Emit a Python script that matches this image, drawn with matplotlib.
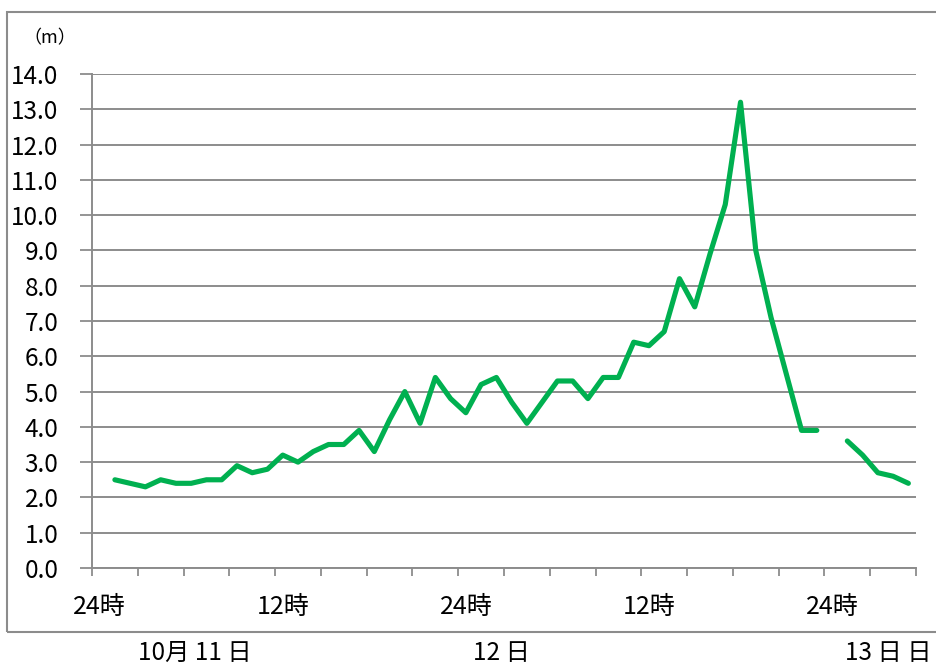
import numpy as np
import matplotlib
matplotlib.use("Agg")
import matplotlib.pyplot as plt
from matplotlib.patches import Rectangle

plt.rcParams['font.family'] = ['Noto Sans CJK JP', 'DejaVu Sans']

# Hourly categories from 10/11 0時 (54 hours), wave height in metres
hours = list(range(54))
wave_height = [np.nan,
               2.5, 2.4, 2.3, 2.5, 2.4, 2.4, 2.5, 2.5, 2.9, 2.7,
               2.8, 3.2, 3.0, 3.3, 3.5, 3.5, 3.9, 3.3, 4.2, 5.0,
               4.1, 5.4, 4.8, 4.4, 5.2, 5.4, 4.7, 4.1, 4.7, 5.3,
               5.3, 4.8, 5.4, 5.4, 6.4, 6.3, 6.7, 8.2, 7.4, 8.9,
               10.3, 13.2, 9.0, 7.1, 5.5, 3.9, 3.9, np.nan, 3.6, 3.2,
               2.7, 2.6, 2.4]

hour_label_pos = [0, 12, 24, 36, 48]
hour_labels = ['24時', '12時', '24時', '12時', '24時']
y_ticks = list(range(0, 15))
date_labels = ['10月 11 日', '12 日', '13 日 日']
date_label_x = [195, 501, 888]

W, H = 937, 670
fig = plt.figure(figsize=(W / 100, H / 100), dpi=100)
ax = fig.add_axes([92 / W, 1 - 568 / H, (916 - 92) / W, (568 - 74) / H])

grid_c = '#8c8c8c'
ax.plot(hours, wave_height, color='#00B050', lw=3.7,
        solid_joinstyle='round', solid_capstyle='round', zorder=3)

ax.set_xlim(-0.5, 53.5)
ax.set_ylim(0, 14)

# category boundaries every 3 hours carry the tick marks
ax.set_xticks(np.arange(-0.5, 54, 3))
ax.set_xticklabels([])
ax.set_xticks(hour_label_pos, minor=True)
ax.set_xticklabels(hour_labels, minor=True, fontsize=18)
ax.tick_params(axis='x', which='major', length=6, width=1.3, color=grid_c, direction='out')
ax.tick_params(axis='x', which='minor', length=0, pad=19)

ax.set_yticks(y_ticks)
ax.set_yticklabels([f'{v:.1f}' for v in y_ticks], fontsize=17.5)
ax.tick_params(axis='y', length=9, width=1.3, color=grid_c, pad=15)

ax.grid(axis='y', color=grid_c, lw=1.4, zorder=1)
ax.set_axisbelow(True)
for s in ['top', 'right']:
    ax.spines[s].set_visible(False)
for s in ['left', 'bottom']:
    ax.spines[s].set_color(grid_c)
    ax.spines[s].set_linewidth(1.4)

# unit label
fig.text(50 / W, 1 - 38 / H, '（m）', fontsize=13, ha='center', va='center')

# outer chart frame
fig.patches.append(Rectangle((7 / W, 1 - 632 / H), 1.0, (632 - 12) / H,
                             transform=fig.transFigure, fill=False,
                             edgecolor=grid_c, lw=1.5))

for lbl, x in zip(date_labels, date_label_x):
    fig.text(x / W, 1 - 653 / H, lbl, fontsize=17.5, ha='center', va='center')

fig.savefig('out.png', dpi=100)
